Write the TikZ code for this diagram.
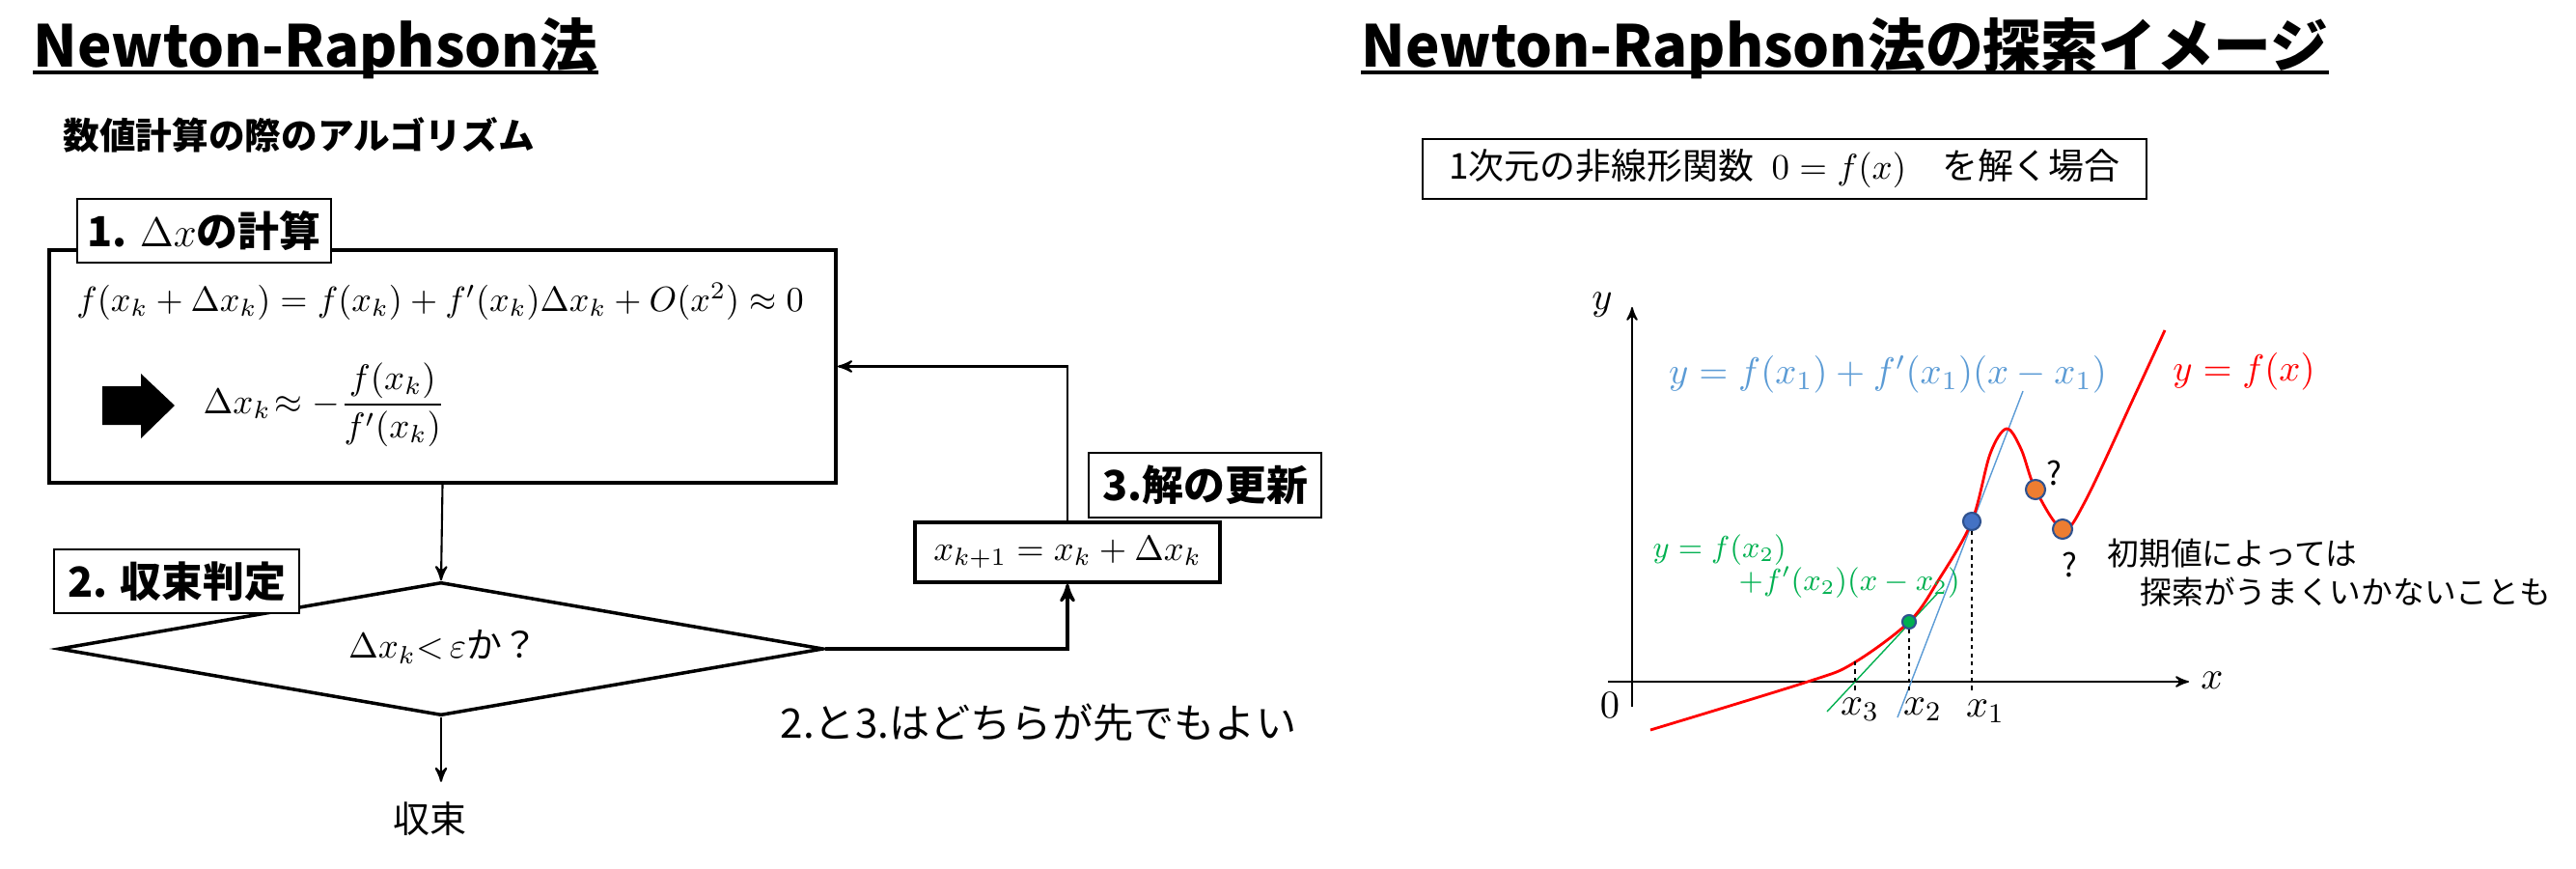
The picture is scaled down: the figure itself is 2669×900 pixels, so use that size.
\RequirePackage{fix-cm}
\documentclass[tikz,border=0pt]{standalone}
\usepackage{amsmath}
\usepackage{fontspec}
\newfontfamily\jp{Noto Sans CJK JP}
\usepackage{tikz}
\usetikzlibrary{arrows,shapes.geometric,positioning}

\definecolor{tanblue}{HTML}{5B9BD5}
\definecolor{tangreen}{HTML}{00B050}
\definecolor{dotblue}{HTML}{4472C4}
\definecolor{dotorange}{HTML}{ED7D31}
\definecolor{dotrim}{HTML}{2F528F}

\begin{document}
\begin{tikzpicture}[x=0.01cm,y=-0.01cm,>=stealth',
    title node/.style={anchor=base west,inner sep=0pt,font=\jp\bfseries\fontsize{17}{20}\selectfont},
    head node/.style={inner sep=0pt,font=\jp\bfseries\fontsize{#1}{#1}\selectfont},
    tag node/.style={draw,fill=white,line width=0.7pt,inner sep=0pt,font=\jp\bfseries\fontsize{12.2}{14}\selectfont},
    box node/.style={draw,line width=1pt,inner sep=0pt},
    jp node/.style={inner sep=0pt,font=\jp\fontsize{#1}{#1}\selectfont},
    eq node/.style={inner sep=0pt,font=\fontsize{#1}{#1}\selectfont},
    dot node/.style={circle,draw=dotrim,line width=0.6pt,inner sep=0pt,minimum size=#1},
    flow/.style={->,line width=0.6pt},
    axis/.style={->,line width=0.5pt},
    guide/.style={line width=0.4pt,dash pattern=on 1.2pt off 1.2pt}
    ]
  \useasboundingbox (0,0) rectangle (2669,900);

  \node[title node] (ttlA) at (34,70) {Newton-Raphson法};
  \draw[line width=1.1pt] ([yshift=-1.4pt]ttlA.base west) -- ([yshift=-1.4pt]ttlA.base east);
  \node[head node=10.7,anchor=west] (sub) at (65,140) {数値計算の際のアルゴリズム};

  \node[box node,minimum width=8.15cm,minimum height=2.41cm] (calc) at (458.5,379.5) {};
  \node[tag node,minimum width=2.63cm,minimum height=0.66cm] (tagA) at (211.5,239) {1. $\Delta x$の計算};
  \node[eq node=10.3] (taylor) at (456,312) {$f(x_k+\Delta x_k)=f(x_k)+f'(x_k)\Delta x_k+O(x^2)\approx 0$};
  \fill (106,400) -- (146,400) -- (146,387) -- (181,420) -- (146,454) -- (146,440) -- (106,440) -- cycle;
  \node[eq node=10.5,anchor=west] (step) at (210,419) {$\Delta x_k\!\approx -\dfrac{f(x_k)}{f'(x_k)}$};

  \node[draw,diamond,aspect=5.74,line width=1pt,inner sep=0pt,minimum width=7.92cm,minimum height=1.38cm] (judge) at (457,672) {};
  \node[jp node=10.5] (cond) at (459,670) {$\Delta x_k{<}\,\varepsilon$か？};
  \node[tag node,minimum width=2.54cm,minimum height=0.66cm] (tagB) at (183,602) {2. 収束判定};
  \node[jp node=10.8] (conv) at (445,848) {収束};

  \node[box node,minimum width=3.16cm,minimum height=0.62cm,font=\fontsize{10.4}{11}\selectfont] (upd) at (1106,572) {$x_{k+1}=x_k+\Delta x_k$};
  \node[tag node,minimum width=2.41cm,minimum height=0.67cm] (tagC) at (1248.5,502.5) {3.解の更新};
  \node[jp node=12,anchor=west] (note) at (808,748) {2.と3.はどちらが先でもよい};

  \draw[flow] (calc.south) -- (judge.north);
  \draw[flow,shorten >=2mm] (judge.south) -- (judge.south |- conv.north);
  \draw[flow,line width=0.9pt] (judge.east) -| (upd.south);
  \draw[flow] (upd.north) |- (calc.east);

  \node[title node] (ttlB) at (1410,70) {Newton-Raphson法の探索イメージ};
  \draw[line width=1.1pt] ([yshift=-1.4pt]ttlB.base west) -- ([yshift=-1.4pt]ttlB.base east);
  \node[draw,line width=0.7pt,jp node=10.5,minimum width=7.5cm,minimum height=0.62cm] (task) at (1849,175) {1次元の非線形関数\hspace{0.5em}$0=f(x)$\hspace{1em}を解く場合};

  \coordinate (yb) at (1691,732);
  \coordinate (yt) at (1691,318);
  \coordinate (xl) at (1666,706);
  \coordinate (xr) at (2268,706);
  \draw[axis] (yb) -- (yt);
  \draw[axis] (xl) -- (xr);
  \node[eq node=11.5,anchor=base] (ylab) at (1660,320) {$y$};
  \node[eq node=11.5,anchor=base] (xlab) at (2292,713) {$x$};
  \node[eq node=11.5,anchor=base] (orig) at (1668,743) {$0$};

  \coordinate (t1a) at (1966,743);
  \coordinate (t1b) at (2096,405);
  \coordinate (t2a) at (1893,737);
  \coordinate (t2b) at (2007,615);
  \draw[tanblue,line width=0.4pt] (t1a) -- (t1b);
  \draw[tangreen,line width=0.4pt] (t2a) -- (t2b);

  \draw[red,line width=0.8pt] plot[smooth,tension=0.55] coordinates {(1710,756) (1873,706) (1920,687) (1978,644) (2009,600) (2043,540) (2062,470) (2079,444) (2094,465) (2109,507) (2137,548) (2160,520) (2213,407) (2243,342)};

  \node[dot node=0.18cm,fill=dotblue] (p1) at (2043,540) {};
  \node[dot node=0.14cm,fill=tangreen] (p2) at (1978,644) {};
  \node[dot node=0.2cm,fill=dotorange] (q1) at (2109,507) {};
  \node[dot node=0.2cm,fill=dotorange] (q2) at (2137,548) {};
  \coordinate (p3) at (1922,685);
  \coordinate (f1) at (2043,717);
  \coordinate (f2) at (1978,717);
  \coordinate (f3) at (1922,717);
  \draw[guide] (p1) -- (f1);
  \draw[guide] (p2) -- (f2);
  \draw[guide] (p3) -- (f3);

  \node[eq node=11.5,anchor=base] (x3) at (1927,740) {$x_3$};
  \node[eq node=11.5,anchor=base] (x2) at (1992,740) {$x_2$};
  \node[eq node=11.5,anchor=base] (x1) at (2057,742) {$x_1$};

  \node[eq node=11,text=tanblue] (lin1) at (1956,388) {$y=f(x_1)+f'(x_1)(x-x_1)$};
  \node[eq node=11,text=red] (fun) at (2325,385) {$y=f(x)$};
  \node[eq node=9,text=tangreen,anchor=west] (lin2a) at (1712,570) {$y=f(x_2)$};
  \node[eq node=9,text=tangreen,anchor=west] (lin2b) at (1801,603) {$+f'(x_2)(x-x_2)$};

  \node[jp node=9.5] (qa) at (2128,490) {?};
  \node[jp node=9.5] (qb) at (2144,585) {?};
  \node[jp node=9.3,anchor=west] (warnA) at (2183,573) {初期値によっては};
  \node[jp node=9.3,anchor=west] (warnB) at (2217,613) {探索がうまくいかないことも};
\end{tikzpicture}
\end{document}
